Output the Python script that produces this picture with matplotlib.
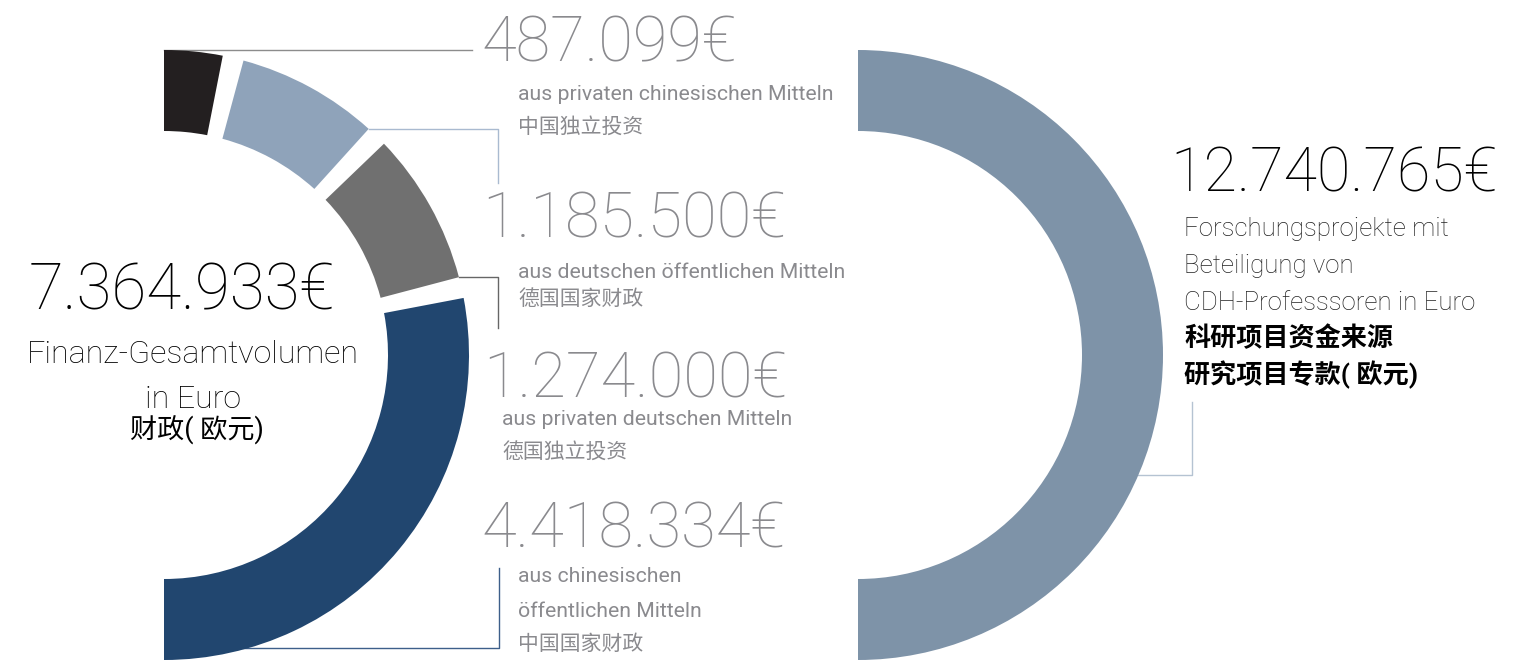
import matplotlib

matplotlib.use("Agg")
import matplotlib.pyplot as plt
import numpy as np
from matplotlib.patches import Wedge

plt.rcParams["font.family"] = ["Roboto", "Noto Sans CJK SC", "DejaVu Sans"]

# left half ring: where the total budget comes from
source_values = [487099, 1185500, 1274000, 4418334]
source_amounts = ["487.099€", "1.185.500€", "1.274.000€", "4.418.334€"]
source_labels_de = [
    ["aus privaten chinesischen Mitteln"],
    ["aus deutschen öffentlichen Mitteln"],
    ["aus privaten deutschen Mitteln"],
    ["aus chinesischen", "öffentlichen Mitteln"],
]
source_labels_zh = ["中国独立投资", "德国国家财政", "德国独立投资", "中国国家财政"]
source_colors = ["#231f20", "#8fa3ba", "#707070", "#21466f"]
leader_colors = ["#8c8c8c", "#a9bad0", "#666666", "#3d5f8a"]

total_amount = "7.364.933€"
total_label = ["Finanz-Gesamtvolumen", "in Euro"]
total_label_zh = "财政( 欧元)"

# right half ring: research projects
research_value = 12740765
research_amount = "12.740.765€"
research_label_de = ["Forschungsprojekte mit", "Beteiligung von", "CDH-Professsoren in Euro"]
research_label_zh = ["科研项目资金来源", "研究项目专款( 欧元)"]
research_color = "#7e93a8"

W, H = 1531, 660
R_OUT, R_IN = 305, 224
LEFT_C = (164, 355)
RIGHT_C = (858, 355)
GAP = 4.0
GRAY = "#8a8a8e"


def ring_angles(values, gap):
    span = 180.0 - gap * (len(values) - 1)
    total = sum(values)
    angles = []
    start = -90.0
    for v in values:
        end = start + span * v / total
        angles.append((start, end))
        start = end + gap
    return angles


fig = plt.figure(figsize=(W / 100, H / 100), dpi=100)
ax = fig.add_axes([0, 0, 1, 1])
ax.set_xlim(0, W)
ax.set_ylim(H, 0)
ax.axis("off")

angles = ring_angles(source_values, GAP)
for (t1, t2), color in zip(angles, source_colors):
    ax.add_patch(Wedge(LEFT_C, R_OUT, t1, t2, width=R_OUT - R_IN, facecolor=color, edgecolor="none", zorder=3))

ax.add_patch(Wedge(RIGHT_C, R_OUT, -90, 90, width=R_OUT - R_IN, facecolor=research_color, edgecolor="none", zorder=3))

# leader lines
lw = 1.0
cx, cy = LEFT_C
ax.plot([cx, 472], [cy - R_OUT, cy - R_OUT], color=leader_colors[0], lw=lw, zorder=2)
for idx, x_end, y_end in [(1, 498, 183), (2, 498, 328)]:
    t = np.deg2rad(angles[idx][1])
    px, py = cx + R_OUT * np.cos(t), cy + R_OUT * np.sin(t)
    ax.plot([px, x_end, x_end], [py, py, y_end], color=leader_colors[idx], lw=lw, zorder=2)
ax.plot([220, 499, 499], [648, 648, 568], color=leader_colors[3], lw=lw, zorder=2)
ax.plot([1138, 1192, 1192], [475, 475, 402], color="#b5c3d2", lw=lw, zorder=2)

# amounts and labels of the sources
amount_pos = [(481, 62), (482, 237), (483, 397), (481, 548)]
de_pos = [(518, [100]), (518, [278]), (502, [425]), (518, [582, 617])]
zh_pos = [(518, 127), (518, 299), (502, 452), (518, 644)]
for i in range(4):
    x, y = amount_pos[i]
    ax.text(x, y, source_amounts[i], color=GRAY, fontsize=45.5, fontweight="light", va="baseline", ha="left")
    x, ys = de_pos[i]
    for line, y in zip(source_labels_de[i], ys):
        ax.text(x, y, line, color=GRAY, fontsize=15.3, va="baseline", ha="left")
    x, y = zh_pos[i]
    ax.text(x, y, source_labels_zh[i], color=GRAY, fontsize=15, va="center", ha="left")

# total in the middle of the left ring
ax.text(182, 310, total_amount, color="black", fontsize=45.8, fontweight="light", va="baseline", ha="center")
ax.text(193, 363, total_label[0], color="black", fontsize=23.1, fontweight="light", va="baseline", ha="center")
ax.text(193, 408, total_label[1], color="black", fontsize=23.1, fontweight="light", va="baseline", ha="center")
ax.text(197, 430, total_label_zh, color="black", fontsize=19.5, va="center", ha="center")

# research projects on the right
ax.text(1170, 192, research_amount, color="black", fontsize=44, fontweight="light", va="baseline", ha="left")
for line, y in zip(research_label_de, [236, 273, 310]):
    ax.text(1184, y, line, color="#222222", fontsize=18.6, fontweight="light", va="baseline", ha="left")
for line, y in zip(research_label_zh, [338, 375]):
    ax.text(1184, y, line, color="black", fontsize=18.8, fontweight="bold", va="center", ha="left")

fig.savefig("out.png", dpi=100)
